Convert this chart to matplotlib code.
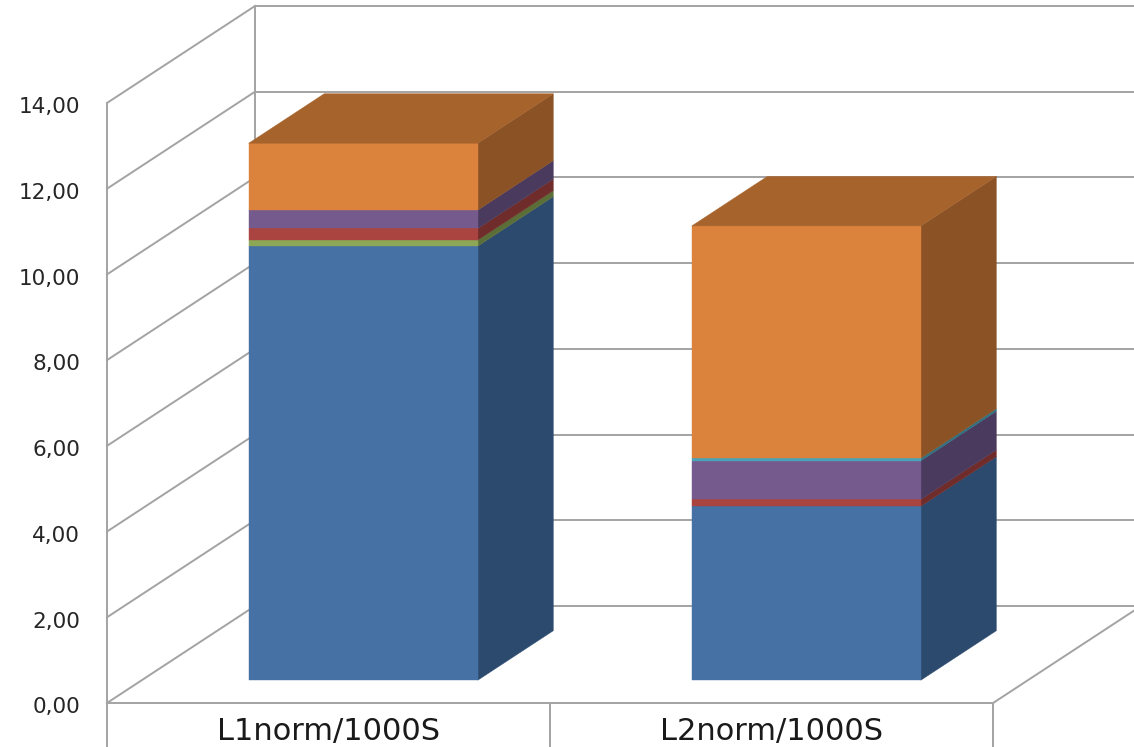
import matplotlib
matplotlib.use("Agg")
import matplotlib.pyplot as plt
from matplotlib.patches import Polygon

# Data: stacked components per category (bottom to top)
categories = ["L1norm/1000S", "L2norm/1000S"]
series_blue = [10.13, 4.06]
series_green = [0.14, 0.00]
series_red = [0.27, 0.16]
series_purple = [0.43, 0.90]
series_teal = [0.00, 0.06]
series_orange = [1.56, 5.42]
y_ticks = [0, 2, 4, 6, 8, 10, 12, 14]

series = [series_blue, series_green, series_red, series_purple, series_teal, series_orange]
# (front, side, top) shades per series
shades = [
    ("#4571A5", "#2C4A6E", "#3A5F8A"),
    ("#8CA755", "#5B6E37", "#728A45"),
    ("#AA4440", "#6F2C2A", "#8C3835"),
    ("#755A8D", "#4A3A5D", "#5F4A75"),
    ("#4BA3B8", "#307080", "#3E8A9C"),
    ("#DB823C", "#8B5226", "#A6632C"),
]

# Oblique projection of the 3D frame
DX = 0.334      # horizontal shift of full depth (category units)
DV = 2.263      # vertical shift of full depth (value units)
T0, T1 = 0.235, 0.745   # front/back depth of the bars
BAR_W = 0.517
GRID = "#A3A3A3"


def proj(x, v, t):
    return (x + DX * t, v + DV * t)


fig = plt.figure(figsize=(11.34, 7.47), dpi=100)
ax = fig.add_axes([0, 0, 1, 1])
ax.set_xlim(-0.2415, 2.318)
ax.set_ylim(-1.027, 16.403)
ax.axis("off")

lw = 1.4
# side wall and back wall gridlines
for v in y_ticks:
    p0, p1 = proj(0, v, 0), proj(0, v, 1)
    ax.plot([p0[0], p1[0]], [p0[1], p1[1]], color=GRID, lw=lw, zorder=1)
    q0, q1 = proj(0, v, 1), proj(2, v, 1)
    ax.plot([q0[0], q1[0]], [q0[1], q1[1]], color=GRID, lw=lw, zorder=1)
# wall verticals
for t in (0, 1):
    a, b = proj(0, 0, t), proj(0, y_ticks[-1], t)
    ax.plot([a[0], b[0]], [a[1], b[1]], color=GRID, lw=lw, zorder=1)
# floor edges
a, b = proj(0, 0, 0), proj(2, 0, 0)
ax.plot([a[0], b[0]], [a[1], b[1]], color=GRID, lw=lw, zorder=1)
a, b = proj(2, 0, 0), proj(2, 0, 1)
ax.plot([a[0], b[0]], [a[1], b[1]], color=GRID, lw=lw, zorder=1)
# category dividers below the floor
for x in (0, 1, 2):
    ax.plot([x, x], [0, -1.2], color=GRID, lw=lw, zorder=1)

# stacked 3D bars
for i, cat in enumerate(categories):
    c = i + 0.5
    x0, x1 = c - BAR_W / 2, c + BAR_W / 2
    base = 0.0
    top_idx = max(k for k, s in enumerate(series) if s[i] > 0)
    for k, s in enumerate(series):
        h = s[i]
        if h <= 0:
            continue
        lo, hi = base, base + h
        front_c, side_c, top_c = shades[k]
        front = [proj(x0, lo, T0), proj(x1, lo, T0), proj(x1, hi, T0), proj(x0, hi, T0)]
        side = [proj(x1, lo, T0), proj(x1, lo, T1), proj(x1, hi, T1), proj(x1, hi, T0)]
        ax.add_patch(Polygon(side, closed=True, facecolor=side_c, edgecolor=side_c, lw=0.3, zorder=3))
        ax.add_patch(Polygon(front, closed=True, facecolor=front_c, edgecolor=front_c, lw=0.3, zorder=4))
        if k == top_idx:
            top = [proj(x0, hi, T0), proj(x1, hi, T0), proj(x1, hi, T1), proj(x0, hi, T1)]
            ax.add_patch(Polygon(top, closed=True, facecolor=top_c, edgecolor=top_c, lw=0.3, zorder=4))
        base = hi
    ax.text(c, -0.66, cat, ha="center", va="center", fontsize=22,
            family="DejaVu Sans", color="#1A1A1A", zorder=5)

# value axis labels
for v in y_ticks:
    ax.text(-0.061, v - 0.1, f"{v:.2f}".replace(".", ","), ha="right", va="center",
            fontsize=15.5, family="DejaVu Sans", color="#262626", zorder=5)

fig.savefig("out.png", dpi=100, facecolor="white")
